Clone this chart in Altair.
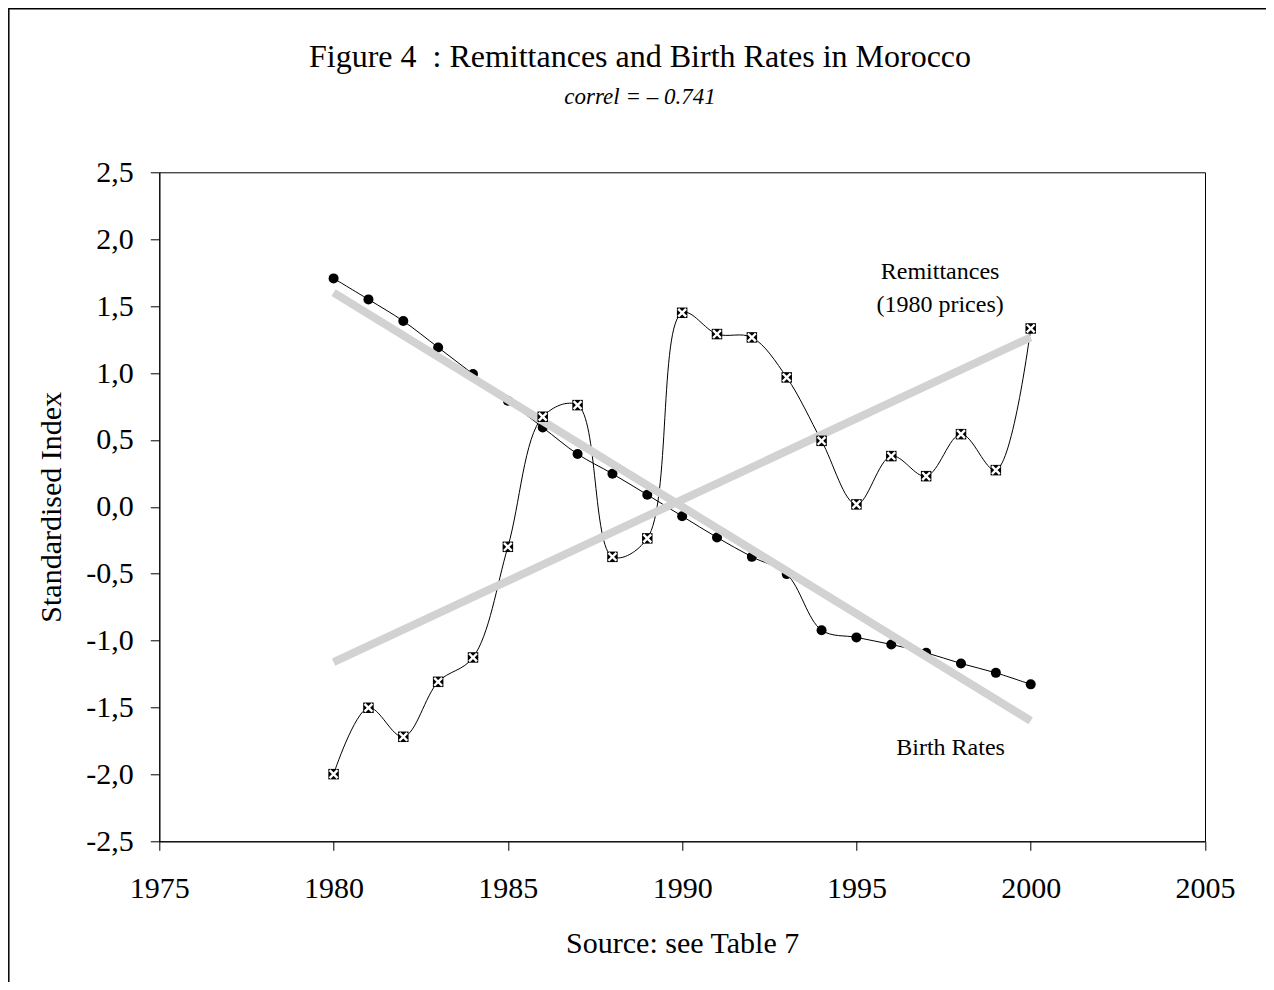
import altair as alt
import pandas as pd

years = list(range(1980, 2001))
birth_rates = [1.707, 1.550, 1.388, 1.191, 0.992, 0.792, 0.593, 0.394, 0.247, 0.090,
               -0.070, -0.229, -0.374, -0.503, -0.922, -0.976, -1.029, -1.091, -1.171,
               -1.241, -1.327]
remittances = [-1.998, -1.502, -1.719, -1.308, -1.126, -0.299, 0.673, 0.760, -0.374,
               -0.236, 1.450, 1.291, 1.266, 0.967, 0.493, 0.018, 0.379, 0.229, 0.543,
               0.274, 1.333]

ann_text = ["Remittances", "(1980 prices)", "Birth Rates"]
ann_year = [1997.4, 1997.4, 1997.7]
ann_value = [1.754, 1.508, -1.80]

title_text = "Figure 4\u00a0\u00a0: Remittances and Birth Rates in Morocco"
subtitle_text = "correl = \u2013 0.741"

FONT = "Liberation Serif"
W, H = 1045.7, 669
PL, PT = 151.3, 164.3

df = pd.DataFrame({"year": years, "birth": birth_rates, "remit": remittances})
ann = pd.DataFrame({"text": ann_text, "year": ann_year, "value": ann_value})
one = pd.DataFrame({"k": [0]})

xs = alt.Scale(domain=[1975, 2005], nice=False, zero=False)
ys = alt.Scale(domain=[-2.5, 2.5], nice=False, zero=False)

xax = alt.Axis(values=[1975, 1980, 1985, 1990, 1995, 2000, 2005], format="d",
               title="Source: see Table 7", grid=False, labelFlush=False,
               labelOverlap=False, tickSize=9, labelPadding=23, titlePadding=25)
yax = alt.Axis(values=[-2.5, -2, -1.5, -1, -0.5, 0, 0.5, 1, 1.5, 2, 2.5],
               labelExpr="replace(replace(format(datum.value, '.1f'), '.', ','), '\u2212', '-')",
               title="Standardised Index", grid=False, labelOverlap=False,
               tickSize=9, labelPadding=17, titlePadding=19)

base = alt.Chart(df)

birth_line = base.mark_line(color="black", strokeWidth=1, interpolate="catmull-rom").encode(
    x=alt.X("year:Q", scale=xs, axis=xax),
    y=alt.Y("birth:Q", scale=ys, axis=yax),
)
birth_pts = base.mark_point(shape="circle", filled=True, color="black", size=100, opacity=1).encode(
    x=alt.X("year:Q", scale=xs), y=alt.Y("birth:Q", scale=ys))

remit_line = base.mark_line(color="black", strokeWidth=1, interpolate="catmull-rom").encode(
    x=alt.X("year:Q", scale=xs), y=alt.Y("remit:Q", scale=ys))
remit_sq = base.mark_point(shape="square", filled=True, color="black", size=110, opacity=1).encode(
    x=alt.X("year:Q", scale=xs), y=alt.Y("remit:Q", scale=ys))
remit_x = base.mark_point(shape="M-0.75,-0.75L0.75,0.75M0.75,-0.75L-0.75,0.75",
                          filled=False, stroke="white", strokeWidth=2.4, size=110, opacity=1).encode(
    x=alt.X("year:Q", scale=xs), y=alt.Y("remit:Q", scale=ys))

trend_b = base.transform_regression("year", "birth").mark_line(
    color="#d2d2d2", strokeWidth=8).encode(
    x=alt.X("year:Q", scale=xs), y=alt.Y("birth:Q", scale=ys))
trend_r = base.transform_regression("year", "remit").mark_line(
    color="#d2d2d2", strokeWidth=8).encode(
    x=alt.X("year:Q", scale=xs), y=alt.Y("remit:Q", scale=ys))

labels = alt.Chart(ann).mark_text(font=FONT, fontSize=24, color="black", baseline="middle",
                                  align="center").encode(
    x=alt.X("year:Q", scale=xs), y=alt.Y("value:Q", scale=ys), text="text:N")

title = alt.Chart(one).mark_text(font=FONT, fontSize=32, color="black", baseline="middle",
                                 align="center", text=title_text).encode(
    x=alt.value(640 - 8 - PL), y=alt.value(57 - 8 - PT))
subtitle = alt.Chart(one).mark_text(font=FONT, fontSize=23, fontStyle="italic", color="black",
                                    baseline="middle", align="center", text=subtitle_text).encode(
    x=alt.value(640 - 8 - PL), y=alt.value(97 - 8 - PT))

border = alt.Chart(one).mark_rect(filled=False, stroke="black", strokeWidth=1.5).encode(
    x=alt.value(-PL + 0.8), x2=alt.value(W + 200), y=alt.value(-PT + 0.8), y2=alt.value(H + 300))

chart = alt.layer(
    border, birth_line, birth_pts, remit_line, trend_b, trend_r, remit_sq, remit_x,
    labels, title, subtitle
).properties(
    width=W, height=H,
    background="white",
    autosize=alt.AutoSizeParams(type="none"),
    padding={"left": PL, "top": PT, "right": 1274 - 16 - PL - W, "bottom": 990 - 16 - PT - H},
).configure_view(
    stroke="black", strokeWidth=1
).configure_axis(
    labelFont=FONT, titleFont=FONT, labelFontSize=30, titleFontSize=30,
    labelColor="black", titleColor="black", tickColor="black", domainColor="black",
    titleFontWeight="normal",
)

chart.save("out.html", embed_options={"renderer": "svg", "actions": False})
